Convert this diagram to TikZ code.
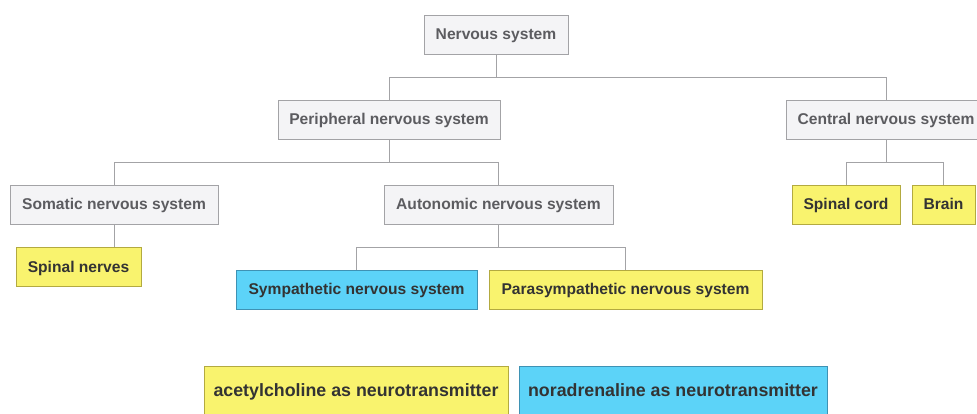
\documentclass[tikz,border=0pt]{standalone}
\usepackage{fontspec}
\setmainfont{Liberation Sans}
\definecolor{greyfill}{HTML}{F4F4F6}
\definecolor{greyline}{HTML}{A3A3A6}
\definecolor{greytext}{HTML}{5C5C60}
\definecolor{yellowfill}{HTML}{F9F36E}
\definecolor{yellowline}{HTML}{B3AA40}
\definecolor{bluefill}{HTML}{5CD3F8}
\definecolor{blueline}{HTML}{3E92B4}
\definecolor{darktext}{HTML}{333333}
\begin{document}
\begin{tikzpicture}[x=0.5pt, y=-0.5pt,
  box/.style={draw, line width=0.5pt, minimum height=19.5pt, inner sep=0pt, text height=0.72em, text depth=0.2em, font=\fontsize{7.8pt}{9pt}\selectfont\bfseries},
  grey/.style={box, fill=greyfill, draw=greyline, text=greytext},
  yellow/.style={box, fill=yellowfill, draw=yellowline, text=darktext},
  blue/.style={box, fill=bluefill, draw=blueline, text=darktext},
  big/.style={minimum height=25pt, font=\fontsize{8.9pt}{10pt}\selectfont\bfseries},
  link/.style={draw=greyline, line width=0.5pt}]
  \clip (0,0) rectangle (977,413);
  \useasboundingbox (0,0) rectangle (977,413);
  \fill[white] (0,0) rectangle (977,413);
  \node[grey, minimum width=72pt] (N) at (496,34.5) {Nervous system};
  \node[grey, minimum width=111pt] (P) at (389,119.5) {Peripheral nervous system};
  \node[grey, minimum width=100pt] (C) at (886,119.5) {Central nervous system};
  \node[grey, minimum width=104pt] (S) at (114,204.5) {Somatic nervous system};
  \node[grey, minimum width=114.5pt] (A) at (498.5,204.5) {Autonomic nervous system};
  \node[yellow, minimum width=54pt] (SC) at (846,204.5) {Spinal cord};
  \node[yellow, minimum width=31.5pt] (B) at (943.5,204.5) {Brain};
  \node[yellow, minimum width=62.5pt] (SN) at (78.5,267) {Spinal nerves};
  \node[blue, minimum width=120.5pt] (Sy) at (356.5,289.5) {Sympathetic nervous system};
  \node[yellow, minimum width=136.5pt] (Pa) at (625.5,289.5) {Parasympathetic nervous system};
  \node[yellow, big, minimum width=152pt] (Ac) at (356,391) {acetylcholine as neurotransmitter};
  \node[blue, big, minimum width=154pt] (No) at (673,391) {noradrenaline as neurotransmitter};
  % buses
  \coordinate (b1) at (496,77);
  \coordinate (b2) at (389,162);
  \coordinate (b3) at (886,162);
  \coordinate (b4) at (498.5,247);
  \draw[link] (N.south) -- (b1) -| (P.north);
  \draw[link] (b1) -| (C.north);
  \draw[link] (P.south) -- (b2) -| (S.north);
  \draw[link] (b2) -| (A.north);
  \draw[link] (C.south) -- (b3) -| (SC.north);
  \draw[link] (b3) -| (B.north);
  \draw[link] (A.south) -- (b4) -| (Sy.north);
  \draw[link] (b4) -| (Pa.north);
  \draw[link] (S.south) -- (S.south |- SN.north);
\end{tikzpicture}
\end{document}
